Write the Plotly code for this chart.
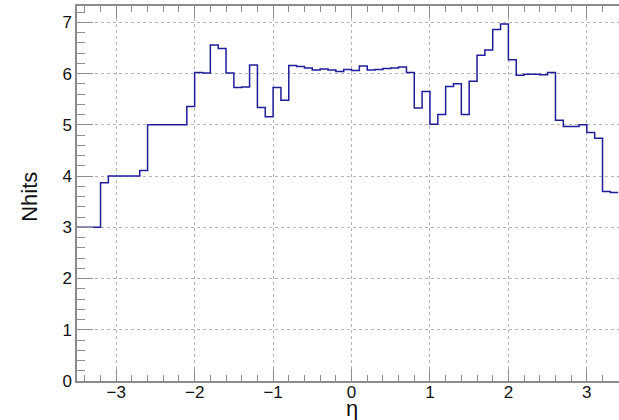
import numpy as np
import plotly.graph_objects as go

# Histogram binning (eta)
eta_min = -3.5
bin_width = 0.1
n_bins = 69

# Bin contents (Nhits), from eta=-3.5 upward
nhits = [
    3.00, 3.00, 3.00, 3.87, 4.00, 4.00, 4.00, 4.00, 4.11, 5.00,
    5.00, 5.00, 5.00, 5.00, 5.36, 6.02, 6.01, 6.56, 6.49, 6.01,
    5.73, 5.74, 6.17, 5.34, 5.16, 5.73, 5.48, 6.16, 6.14, 6.11,
    6.07, 6.09, 6.07, 6.04, 6.08, 6.06, 6.15, 6.07, 6.08, 6.10,
    6.11, 6.13, 6.02, 5.33, 5.65, 5.01, 5.20, 5.75, 5.80, 5.20,
    5.85, 6.36, 6.46, 6.86, 6.97, 6.27, 5.97, 5.99, 5.99, 5.98,
    6.02, 5.09, 4.97, 4.97, 5.00, 4.85, 4.74, 3.70, 3.68,
]

x_ticks = [-3, -2, -1, 0, 1, 2, 3]
y_ticks = [0, 1, 2, 3, 4, 5, 6, 7]

edges = np.round(eta_min + bin_width * np.arange(n_bins + 1), 3)
xs = list(edges)
ys = list(nhits) + [nhits[-1]]

axis_col = "#8c8c8c"
grid_col = "#b4b4b4"
font_fam = "Liberation Sans, Arial, Helvetica, sans-serif"

fig = go.Figure()
fig.add_trace(go.Scatter(
    x=xs, y=ys, mode="lines", line=dict(shape="hv", color="#1e1e9a", width=1.5),
    showlegend=False, hoverinfo="skip",
))

fig.update_layout(
    width=619, height=420,
    margin=dict(l=77, r=0, t=6, b=39),
    paper_bgcolor="white", plot_bgcolor="white",
    font=dict(family=font_fam, color="#111111"),
    xaxis=dict(
        range=[-3.5, 3.41], tickvals=x_ticks, ticks="inside", ticklen=12,
        tickcolor=axis_col, tickwidth=1, showline=True, linecolor=axis_col, linewidth=1.5,
        mirror="ticks", showgrid=True, gridcolor=grid_col, griddash="dot", gridwidth=1,
        zeroline=False, tickfont=dict(size=17, family=font_fam, color="#111111"),
        ticklabelstandoff=-5,
        minor=dict(dtick=0.2, tick0=0, ticks="inside", ticklen=6, tickcolor=axis_col, showgrid=False),
    ),
    yaxis=dict(
        range=[0, 7.32], tickvals=y_ticks, ticks="inside", ticklen=16,
        tickcolor=axis_col, tickwidth=1, showline=True, linecolor=axis_col, linewidth=1.5,
        showgrid=True, gridcolor=grid_col, griddash="dot", gridwidth=1,
        zeroline=False, tickfont=dict(size=17, family=font_fam, color="#111111"),
        minor=dict(dtick=0.2, tick0=0, ticks="inside", ticklen=8, tickcolor=axis_col, showgrid=False),
    ),
    annotations=[
        dict(text="Nhits", x=-0.088, y=0.492, xref="paper", yref="paper",
             textangle=-90, showarrow=False, xanchor="center", yanchor="middle",
             font=dict(size=22, family=font_fam, color="#111111")),
        dict(text="η", x=0, y=-0.072, xref="x", yref="paper",
             showarrow=False, xanchor="center", yanchor="middle",
             font=dict(size=22, family=font_fam, color="#111111")),
    ],
)

fig.write_html(
    "out.html",
    config={"displayModeBar": False},
    post_script="document.body.style.margin='0px';document.body.style.overflow='hidden';",
)
